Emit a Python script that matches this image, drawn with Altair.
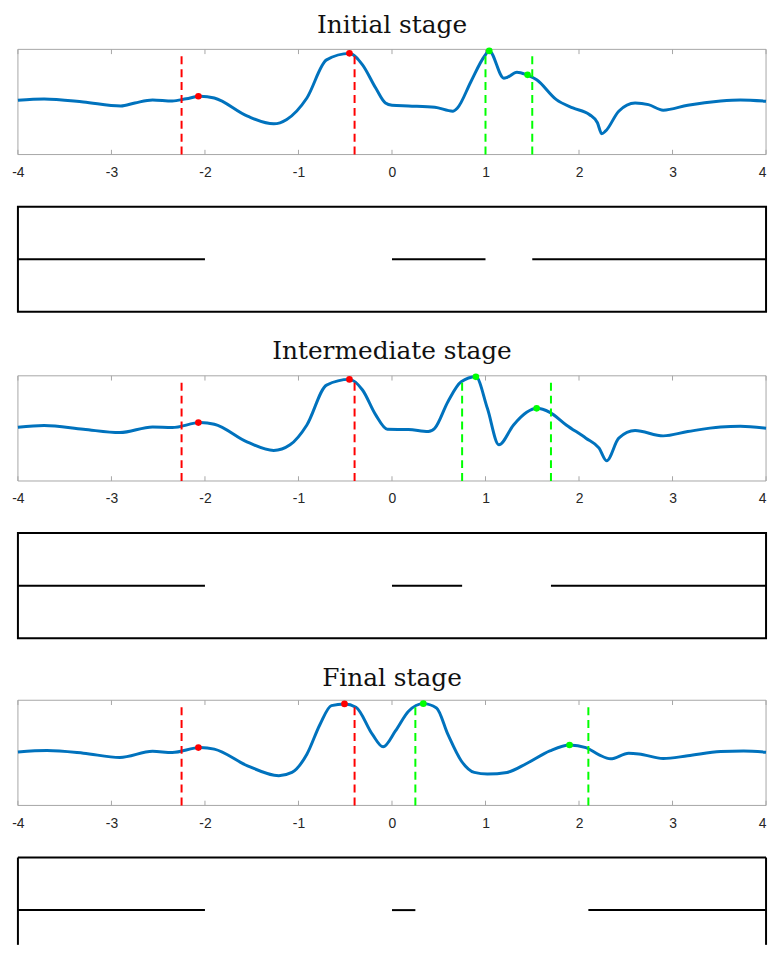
import altair as alt
import pandas as pd

TICKS = [-4, -3, -2, -1, 0, 1, 2, 3, 4]

# ---- Initial stage ----
x1 = [-4.0, -3.72, -3.30, -2.90, -2.75, -2.56, -2.35, -2.20, -2.05, -1.90, -1.545, -1.265, -1.125,
      -0.91, -0.70, -0.455, -0.315, -0.174, -0.07, 0.0, 0.177, 0.458, 0.65, 0.70, 0.845, 0.985,
      1.04, 1.196, 1.23, 1.336, 1.44, 1.547, 1.758, 1.934, 2.11, 2.197, 2.243, 2.285, 2.425,
      2.60, 2.742, 2.90, 3.163, 3.514, 3.725, 4.0]
y1 = [0.516, 0.528, 0.50, 0.462, 0.49, 0.519, 0.509, 0.53, 0.554, 0.538, 0.365, 0.292, 0.334,
      0.538, 0.90, 0.962, 0.853, 0.632, 0.49, 0.469, 0.462, 0.45, 0.412, 0.443, 0.695, 0.93,
      0.985, 0.726, 0.733, 0.783, 0.758, 0.711, 0.522, 0.443, 0.381, 0.302, 0.198, 0.224, 0.412,
      0.49, 0.475, 0.422, 0.469, 0.509, 0.519, 0.507]
red_dots1_x = [-2.07, -0.455]
red_dots1_y = [0.554, 0.962]
green_dots1_x = [1.04, 1.45]
green_dots1_y = [0.985, 0.758]
red_lines1 = [-2.25, -0.40]
green_lines1 = [1.0, 1.5]
seg1_start = [-4.0, 0.0, 1.5]
seg1_end = [-2.0, 1.0, 4.0]

# ---- Intermediate stage ----
x2 = [-4.0, -3.72, -3.30, -2.91, -2.56, -2.35, -2.05, -1.90, -1.545, -1.265, -1.09, -0.91, -0.70,
      -0.455, -0.315, -0.174, -0.05, 0.177, 0.388, 0.458, 0.598, 0.74, 0.897, 1.02, 1.143, 1.30,
      1.44, 1.547, 1.688, 1.863, 2.074, 2.215, 2.295, 2.425, 2.60, 2.90, 3.163, 3.514, 3.725, 4.0]
y2 = [0.511, 0.527, 0.492, 0.46, 0.514, 0.508, 0.555, 0.54, 0.369, 0.29, 0.344, 0.533, 0.912,
      0.966, 0.865, 0.628, 0.492, 0.489, 0.47, 0.502, 0.754, 0.943, 0.99, 0.691, 0.344, 0.533,
      0.653, 0.691, 0.653, 0.533, 0.407, 0.312, 0.192, 0.407, 0.479, 0.429, 0.47, 0.514, 0.52, 0.502]
red_dots2_x = [-2.07, -0.455]
red_dots2_y = [0.555, 0.966]
green_dots2_x = [0.897, 1.547]
green_dots2_y = [0.99, 0.691]
red_lines2 = [-2.25, -0.40]
green_lines2 = [0.75, 1.70]
seg2_start = [-4.0, 0.0, 1.7]
seg2_end = [-2.0, 0.75, 4.0]

# ---- Final stage ----
x3 = [-4.0, -3.69, -3.30, -2.91, -2.56, -2.35, -2.05, -1.90, -1.545, -1.21, -1.07, -0.91, -0.77,
      -0.648, -0.508, -0.385, -0.209, -0.095, 0.037, 0.177, 0.335, 0.476, 0.598, 0.74, 0.88, 1.02,
      1.23, 1.44, 1.688, 1.899, 2.074, 2.215, 2.337, 2.531, 2.64, 2.90, 3.163, 3.514, 3.76, 4.0]
y3 = [0.509, 0.522, 0.497, 0.456, 0.515, 0.503, 0.55, 0.535, 0.377, 0.283, 0.314, 0.487, 0.77,
      0.949, 0.965, 0.934, 0.675, 0.557, 0.708, 0.896, 0.968, 0.927, 0.675, 0.425, 0.314, 0.299,
      0.314, 0.399, 0.519, 0.575, 0.55, 0.481, 0.443, 0.496, 0.49, 0.446, 0.472, 0.512, 0.518, 0.506]
red_dots3_x = [-2.07, -0.508]
red_dots3_y = [0.55, 0.965]
green_dots3_x = [0.335, 1.899]
green_dots3_y = [0.968, 0.575]
red_lines3 = [-2.25, -0.40]
green_lines3 = [0.25, 2.10]
seg3_start = [-4.0, 0.0, 2.1]
seg3_end = [-2.0, 0.25, 4.0]

W = 754
H = 106
H_LAST = 88          # last box is cut by the bottom of the page, as in the reference
LO_LAST = 1 - 0.5 * H_LAST / (H / 2)
AXIS_GRAY = "#a6a6a6"


def XS():
    return alt.Scale(domain=[-4, 4], nice=False, zero=False)


def YS(lo=0.0):
    return alt.Scale(domain=[lo, 1], nice=False, zero=False)


def xaxis():
    return alt.Axis(values=TICKS, labelExpr="'' + datum.value", labelFont="Liberation Sans",
                    labelFontSize=14, labelColor="#262626", ticks=False, domain=False,
                    grid=False, labelPadding=11, title=None, labelFlush=False,
                    labelAlign={"condition": {"test": "datum.value == 4", "value": "right"},
                                "value": "center"})


def curve_panel(title, xs, ys, rdx, rdy, gdx, gdy, rl, gl):
    def xe(f):
        return alt.X(f, scale=XS(), axis=xaxis())

    def ye(f):
        return alt.Y(f, scale=YS(), axis=None)

    frame = alt.Chart(pd.DataFrame({"f": [0]})).transform_calculate(
        xa="-4", xb="4", ya="0", yb="1").mark_rect(
        fillOpacity=0, stroke=AXIS_GRAY, strokeWidth=1).encode(
        x=xe("xa:Q"), x2="xb:Q", y=ye("ya:Q"), y2="yb:Q")
    curve = alt.Chart(pd.DataFrame({"x": xs, "y": ys})).mark_line(
        color="#0072BD", strokeWidth=3, interpolate="monotone"
    ).encode(x=xe("x:Q"), y=ye("y:Q"))
    tick_df = pd.DataFrame({"t": TICKS})
    ticks_bottom = alt.Chart(tick_df).transform_calculate(
        ya="0", yb="0.045").mark_rule(color=AXIS_GRAY, strokeWidth=1).encode(
        x=xe("t:Q"), y=ye("ya:Q"), y2="yb:Q")
    ticks_top = alt.Chart(tick_df).transform_calculate(
        ya="1", yb="0.955").mark_rule(color=AXIS_GRAY, strokeWidth=1).encode(
        x=xe("t:Q"), y=ye("ya:Q"), y2="yb:Q")
    red_l = alt.Chart(pd.DataFrame({"x": rl})).transform_calculate(
        ya="0", yb="0.95").mark_rule(
        color="#FF0000", strokeWidth=2, strokeDash=[8, 5]).encode(
        x=xe("x:Q"), y=ye("ya:Q"), y2="yb:Q")
    green_l = alt.Chart(pd.DataFrame({"x": gl})).transform_calculate(
        ya="0", yb="0.95").mark_rule(
        color="#00FF00", strokeWidth=2, strokeDash=[8, 5]).encode(
        x=xe("x:Q"), y=ye("ya:Q"), y2="yb:Q")
    red_d = alt.Chart(pd.DataFrame({"x": rdx, "y": rdy})).mark_circle(
        color="#FF0000", size=45, opacity=1).encode(x=xe("x:Q"), y=ye("y:Q"))
    green_d = alt.Chart(pd.DataFrame({"x": gdx, "y": gdy})).mark_circle(
        color="#00FF00", size=45, opacity=1).encode(x=xe("x:Q"), y=ye("y:Q"))
    return alt.layer(frame, ticks_bottom, ticks_top, curve, red_l, green_l, red_d,
                     green_d).properties(
        width=W, height=H,
        title=alt.TitleParams(title, font="DejaVu Serif", fontSize=25, fontWeight="normal",
                              color="#111111", anchor="middle", offset=7),
    )


def box_panel(starts, ends, height=H, lo=0.0, open_bottom=False):
    def xe(f):
        return alt.X(f, scale=XS(), axis=None)

    def ye(f):
        return alt.Y(f, scale=YS(lo), axis=None)

    one = pd.DataFrame({"f": [0]})
    if open_bottom:
        top = alt.Chart(one).transform_calculate(xa="-4", xb="4", ya="1").mark_rule(
            color="black", strokeWidth=2).encode(x=xe("xa:Q"), x2="xb:Q", y=ye("ya:Q"))
        left = alt.Chart(one).transform_calculate(
            xa="-4", ya=str(lo), yb="1").mark_rule(
            color="black", strokeWidth=2).encode(x=xe("xa:Q"), y=ye("ya:Q"), y2="yb:Q")
        right = alt.Chart(one).transform_calculate(
            xa="4", ya=str(lo), yb="1").mark_rule(
            color="black", strokeWidth=2).encode(x=xe("xa:Q"), y=ye("ya:Q"), y2="yb:Q")
        frames = [top, left, right]
    else:
        frames = [alt.Chart(one).transform_calculate(
            xa="-4", xb="4", ya="0", yb="1").mark_rect(
            fill="white", stroke="black", strokeWidth=2).encode(
            x=xe("xa:Q"), x2="xb:Q", y=ye("ya:Q"), y2="yb:Q")]
    seg = alt.Chart(pd.DataFrame({"a": starts, "b": ends})).transform_calculate(
        lvl="0.5").mark_rule(color="black", strokeWidth=2).encode(
        x=xe("a:Q"), x2="b:Q", y=ye("lvl:Q"))
    return alt.layer(*frames, seg).properties(width=W, height=height)


chart = alt.vconcat(
    curve_panel("Initial stage", x1, y1, red_dots1_x, red_dots1_y, green_dots1_x, green_dots1_y,
                red_lines1, green_lines1),
    box_panel(seg1_start, seg1_end),
    curve_panel("Intermediate stage", x2, y2, red_dots2_x, red_dots2_y, green_dots2_x, green_dots2_y,
                red_lines2, green_lines2),
    box_panel(seg2_start, seg2_end),
    curve_panel("Final stage", x3, y3, red_dots3_x, red_dots3_y, green_dots3_x, green_dots3_y,
                red_lines3, green_lines3),
    box_panel(seg3_start, seg3_end, height=H_LAST, lo=LO_LAST, open_bottom=True),
    spacing=26.5,
).properties(
    padding={"left": 3, "right": 0, "top": 1, "bottom": 0}
).configure(background="white", view=alt.ViewConfig(stroke="transparent", strokeWidth=0))

chart.save("out.html", embed_options={"renderer": "svg", "actions": False})
